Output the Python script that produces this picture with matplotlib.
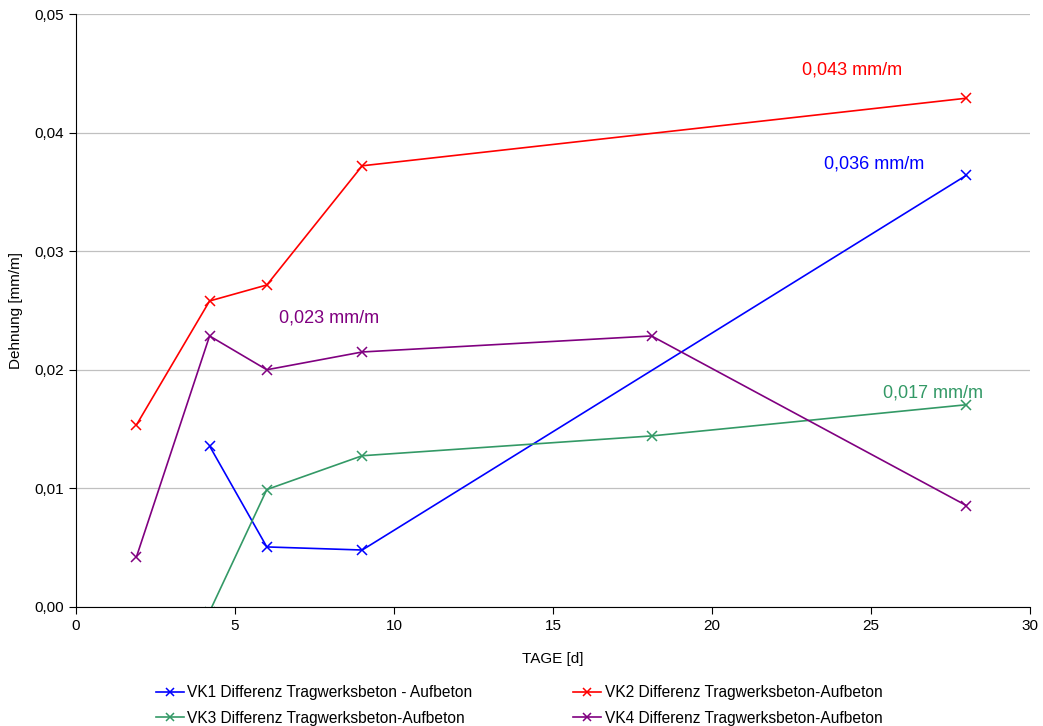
import matplotlib.pyplot as plt
from matplotlib.ticker import FuncFormatter

plt.rcParams['font.family'] = ['Liberation Sans', 'DejaVu Sans']

# Daten
tage_vk1 = [4.2, 6.0, 9.0, 28.0]
vk1 = [0.01357, 0.00506, 0.00480, 0.03640]
tage_vk2 = [1.9, 4.2, 6.0, 9.0, 28.0]
vk2 = [0.01535, 0.02580, 0.02715, 0.03720, 0.04290]
tage_vk3 = [4.2, 6.0, 9.0, 18.1, 28.0]
vk3 = [-0.0004, 0.00990, 0.01275, 0.01442, 0.01705]
tage_vk4 = [1.9, 4.2, 6.0, 9.0, 18.1, 28.0]
vk4 = [0.00422, 0.02285, 0.02000, 0.02150, 0.02285, 0.00855]

labels = ['VK1 Differenz Tragwerksbeton - Aufbeton',
          'VK2 Differenz Tragwerksbeton-Aufbeton',
          'VK3 Differenz Tragwerksbeton-Aufbeton',
          'VK4 Differenz Tragwerksbeton-Aufbeton']
notes = ['0,036 mm/m', '0,043 mm/m', '0,017 mm/m', '0,023 mm/m']
note_pos = [(25.1, 0.03735), (24.4, 0.0453), (26.95, 0.0180), (7.96, 0.02437)]
colors = ['#0000FF', '#FF0000', '#339966', '#800080']
# --------------------

fig = plt.figure(figsize=(10.43, 7.26), dpi=100)
ax = fig.add_axes([0.0729, 0.164, 0.9146, 0.8167])

series = [(tage_vk1, vk1), (tage_vk2, vk2), (tage_vk3, vk3), (tage_vk4, vk4)]
lines = []
for (x, y), lab, c in zip(series, labels, colors):
    l, = ax.plot(x, y, color=c, marker='x', markersize=7, markeredgewidth=1.1,
                 linewidth=1.2, label=lab)
    lines.append(l)

for txt, (px, py), c in zip(notes, note_pos, colors):
    ax.text(px, py, txt, color=c, fontsize=13, ha='center', va='center')

ax.set_xlim(0, 30)
ax.set_ylim(0, 0.05)
ax.set_xticks(range(0, 31, 5))
ax.set_yticks([0, 0.01, 0.02, 0.03, 0.04, 0.05])
ax.yaxis.set_major_formatter(FuncFormatter(lambda v, p: ('%.2f' % v).replace('.', ',')))
ax.grid(axis='y', color='#c0c0c0', linewidth=0.9)
ax.set_axisbelow(True)
for s in ['top', 'right']:
    ax.spines[s].set_visible(False)
ax.tick_params(labelsize=11, direction='out', length=5, colors='black')
ax.set_xlabel('TAGE [d]', fontsize=11, labelpad=14)
ax.set_ylabel('Dehnung [mm/m]', fontsize=11, labelpad=8)

# Reihenfolge zeilenweise: VK1 VK2 / VK3 VK4
order = [0, 2, 1, 3]
ax.legend([lines[i] for i in order], [labels[i] for i in order],
          loc='upper center', bbox_to_anchor=(0.4645, -0.108), ncol=2, frameon=False,
          fontsize=11.2, handlelength=1.8, handletextpad=0.2, columnspacing=6.5,
          labelspacing=0.7, markerscale=0.85)

fig.savefig('out.png', dpi=100)
